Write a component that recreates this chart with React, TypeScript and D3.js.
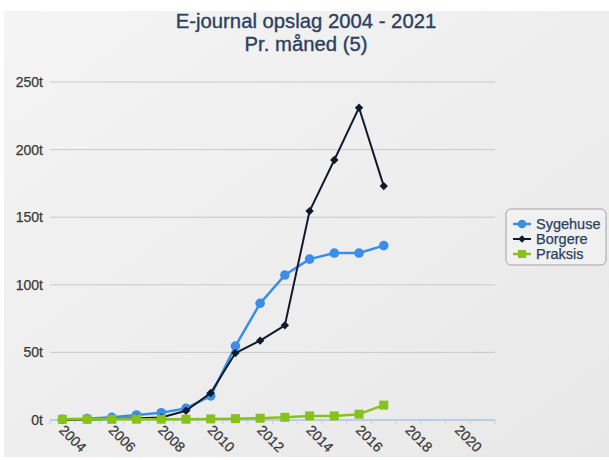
import React from "react";
import * as d3 from "d3";

// Monthly e-journal lookups (thousands) per user group
const years = d3.range(2004, 2022).map(String);
const dataYears = d3.range(2004, 2018).map(String);
const sygehuse = [0.5, 1, 2, 3.7, 5.4, 8.6, 17.8, 54.7, 86.3, 107.2, 119, 123.5, 123.5, 129];
const borgere = [0, 0.3, 0.8, 1.3, 1.8, 6.8, 20, 49.5, 58.7, 70, 154.5, 192.3, 231, 173];
const praksis = [0.5, 0.5, 0.5, 0.6, 0.6, 0.6, 0.8, 1, 1.3, 2, 3, 3, 4.3, 11];
const yTicks = [0, 50, 100, 150, 200, 250];
const seriesNames = ["Sygehuse", "Borgere", "Praksis"];

const W = 609;
const H = 460;
const FONT = "'Liberation Sans', Arial, Helvetica, sans-serif";
const TITLE_COLOR = "#2b3f5f";
const LABEL_COLOR = "#383838";

export default function App() {
  const x = d3.scaleBand().domain(years).range([50, 495]);
  const y = d3.scaleLinear().domain([0, 250]).range([420, 82]);
  const cx = (yr: string) => (x(yr) as number) + x.bandwidth() / 2;

  const line = d3
    .line<number>()
    .x((_, i) => cx(dataYears[i]))
    .y((d) => y(d));

  const series = [
    { name: seriesNames[0], values: sygehuse, color: "#3a8ee8", width: 2.5, marker: "circle" },
    { name: seriesNames[1], values: borgere, color: "#0f1a2c", width: 2, marker: "diamond" },
    { name: seriesNames[2], values: praksis, color: "#86c21b", width: 2.5, marker: "square" },
  ];

  const drawMarker = (kind: string, px: number, py: number, color: string, key: string | number, scale = 1) => {
    if (kind === "circle") return <circle key={key} cx={px} cy={py} r={4.8 * scale} fill={color} />;
    if (kind === "square") {
      const s = 9 * scale;
      return <rect key={key} x={px - s / 2} y={py - s / 2} width={s} height={s} fill={color} />;
    }
    const s = 4.2 * scale;
    return (
      <path key={key} d={`M${px},${py - s}L${px + s},${py}L${px},${py + s}L${px - s},${py}Z`} fill={color} />
    );
  };

  const boundaries = years.map((yr) => x(yr) as number).concat([495]);

  return (
    <div style={{ position: "absolute", left: 0, top: 0 }}>
      <svg width={W} height={H} style={{ display: "block", fontFamily: FONT }}>
        <defs>
          <linearGradient id="bg" x1="0" y1="0" x2="1" y2="1">
            <stop offset="0" stopColor="#f4f4f4" />
            <stop offset="1" stopColor="#e8e8e8" />
          </linearGradient>
        </defs>
        <rect x={0} y={0} width={W} height={H} fill="#ffffff" />
        <rect x={4} y={11} width={W - 4} height={446} fill="url(#bg)" />

        <g fontSize={20.3} fill={TITLE_COLOR} stroke={TITLE_COLOR} strokeWidth={0.35} textAnchor="middle">
          <text x={306} y={28}>E-journal opslag 2004 - 2021</text>
          <text x={306} y={51}>Pr. måned (5)</text>
        </g>

        {/* horizontal grid */}
        {yTicks.map((t) => (
          <g key={t}>
            {t > 0 && <line x1={50} x2={495} y1={y(t)} y2={y(t)} stroke="#c9c9c9" strokeWidth={1} />}
            <text
              x={43}
              y={y(t)}
              dy="0.35em"
              textAnchor="end"
              fontSize={14}
              fill={LABEL_COLOR}
              stroke={LABEL_COLOR}
              strokeWidth={0.25}
            >
              {`${t}t`}
            </text>
          </g>
        ))}

        {/* category axis */}
        <line x1={50} x2={495} y1={y(0)} y2={y(0)} stroke="#aac3df" strokeWidth={1.5} />
        {boundaries.map((bx, i) => (
          <line key={i} x1={bx} x2={bx} y1={y(0)} y2={y(0) + 4} stroke="#bcd0e6" strokeWidth={1} />
        ))}
        {years
          .filter((yr) => +yr % 2 === 0)
          .map((yr) => (
            <text
              key={yr}
              transform={`translate(${cx(yr) - 4},${431}) rotate(45)`}
              fontSize={14}
              fill={LABEL_COLOR}
              stroke={LABEL_COLOR}
              strokeWidth={0.25}
            >
              {yr}
            </text>
          ))}

        {/* series */}
        {series.map((s) => (
          <g key={s.name}>
            <path d={line(s.values) as string} fill="none" stroke={s.color} strokeWidth={s.width} strokeLinejoin="round" />
            {s.values.map((v, i) => drawMarker(s.marker, cx(dataYears[i]), y(v), s.color, i))}
          </g>
        ))}

        {/* legend */}
        <rect x={506} y={209} width={100} height={56} rx={5} fill="#f1f1f1" stroke="#a3a3a3" strokeWidth={1} />
        {series.map((s, i) => {
          const ly = 224 + i * 15;
          return (
            <g key={s.name}>
              <line x1={513} x2={531} y1={ly} y2={ly} stroke={s.color} strokeWidth={s.width} />
              {drawMarker(s.marker, 522, ly, s.color, "m", 0.9)}
              <text
                x={536}
                y={ly}
                dy="0.35em"
                fontSize={14.5}
                fill={TITLE_COLOR}
                stroke={TITLE_COLOR}
                strokeWidth={0.25}
              >
                {s.name}
              </text>
            </g>
          );
        })}
      </svg>
    </div>
  );
}
